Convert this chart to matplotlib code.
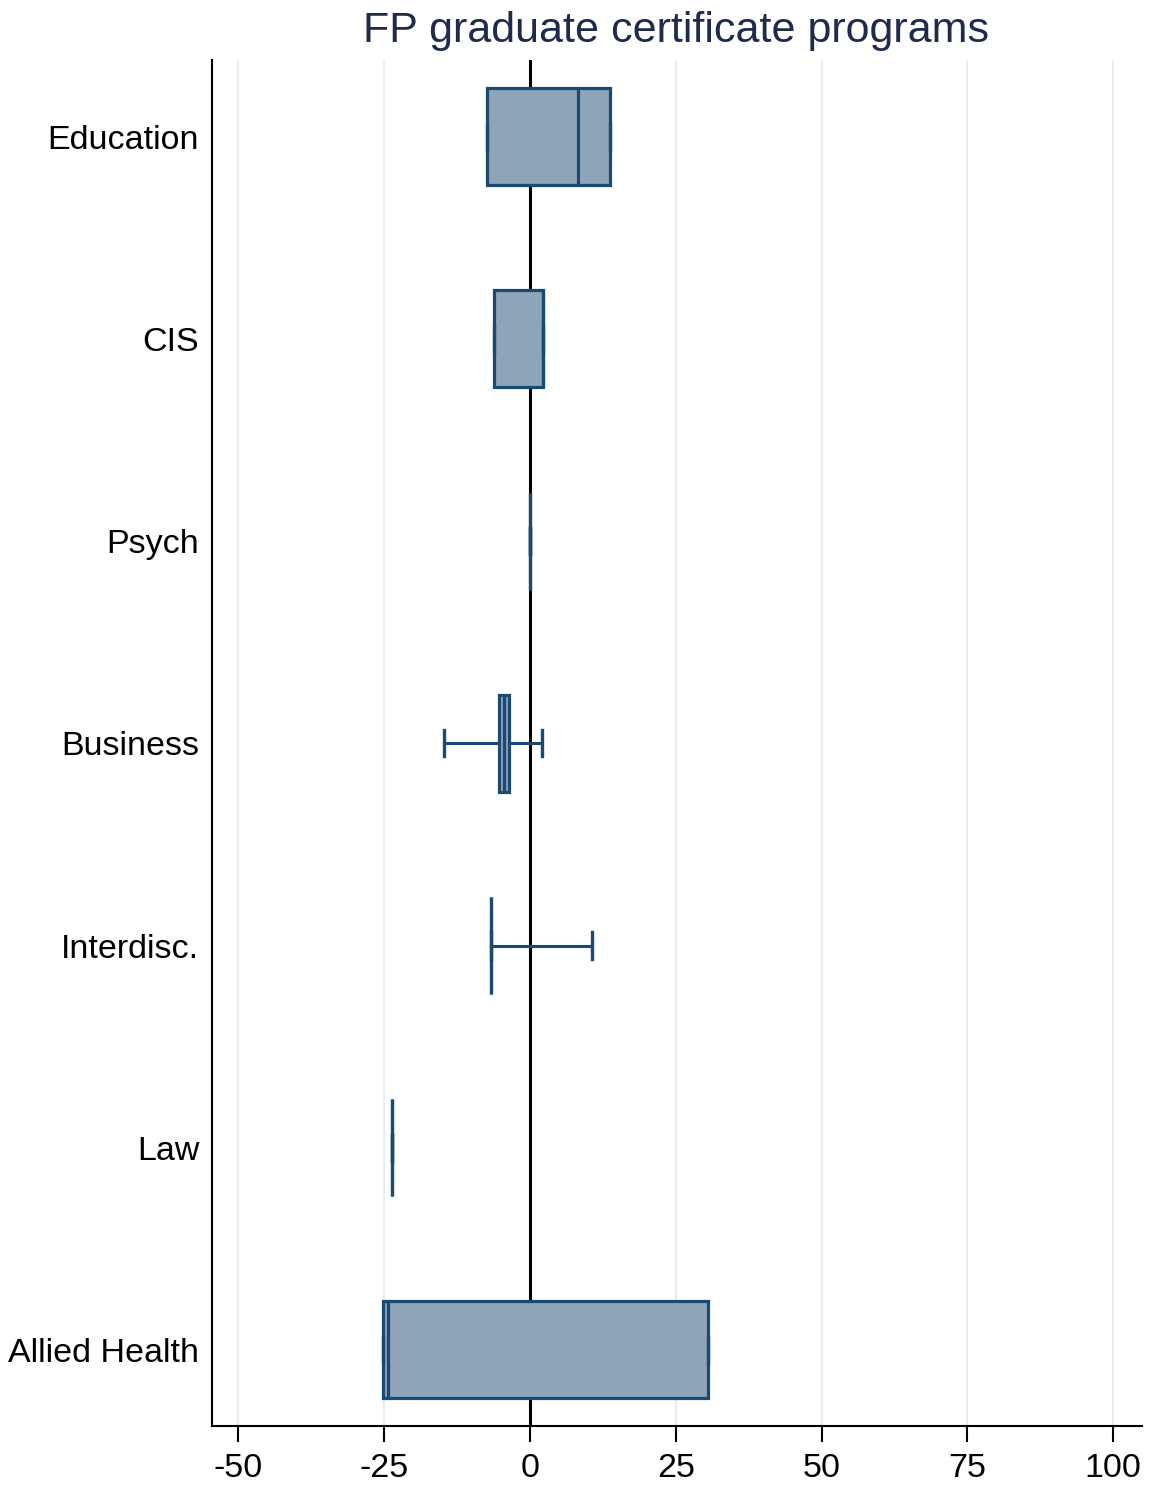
import matplotlib
import matplotlib.pyplot as plt

matplotlib.use("Agg")

plt.rcParams["font.family"] = ["Liberation Sans", "DejaVu Sans"]

# program areas and their box summary (percent change)
programs = ["Education", "CIS", "Psych", "Business", "Interdisc.", "Law", "Allied Health"]
whisker_low = [-7.3, -6.2, 0.0, -14.7, -6.7, -23.6, -25.3]
q1 = [-7.3, -6.2, 0.0, -5.4, -6.7, -23.6, -25.3]
median = [8.3, 2.3, 0.0, -4.5, -6.7, -23.6, -24.4]
q3 = [13.7, 2.3, 0.0, -3.6, -6.7, -23.6, 30.5]
whisker_high = [13.7, 2.3, 0.0, 2.1, 10.6, -23.6, 30.5]

x_ticks = [-50, -25, 0, 25, 50, 75, 100]

navy = "#1a4a72"
fill = "#8ea4b9"

stats = []
for i, name in enumerate(programs):
    stats.append({
        "label": name,
        "whislo": whisker_low[i],
        "q1": q1[i],
        "med": median[i],
        "q3": q3[i],
        "whishi": whisker_high[i],
        "fliers": [],
    })

fig = plt.figure(figsize=(11.51, 14.91), dpi=100)
ax = fig.add_axes([0.1839, 0.0438, 0.992 - 0.1839, 0.9598 - 0.0438])

positions = list(range(1, len(programs) + 1))

for t in x_ticks:
    ax.axvline(t, color="#e6eef2", linewidth=1.6, zorder=0)
ax.axvline(0, color="black", linewidth=2.2, zorder=1)

ax.bxp(
    stats,
    positions=positions,
    orientation="horizontal",
    widths=0.48,
    capwidths=0.13,
    patch_artist=True,
    showfliers=False,
    boxprops=dict(facecolor=fill, edgecolor=navy, linewidth=2.3),
    medianprops=dict(color=navy, linewidth=2.3),
    whiskerprops=dict(color=navy, linewidth=2.2),
    capprops=dict(color=navy, linewidth=2.4),
    zorder=3,
)

ax.set_xlim(-54.6, 104.9)
ax.set_ylim(7.375, 0.62)
ax.set_xticks(x_ticks)
ax.set_xticklabels([str(t) for t in x_ticks])
ax.set_yticks(positions)
ax.set_yticklabels(programs)

ax.tick_params(axis="x", length=11.5, width=1.5, pad=8, labelsize=24.5, colors="black")
ax.tick_params(axis="y", length=0, pad=9, labelsize=24.5, colors="black")

for side in ["top", "right"]:
    ax.spines[side].set_visible(False)
for side in ["left", "bottom"]:
    ax.spines[side].set_linewidth(1.5)
    ax.spines[side].set_color("black")

fig.text(0.587, 0.979, "FP graduate certificate programs", ha="center", va="center",
         fontsize=31, color="#1e2b4a")

fig.savefig("out.png", dpi=100, facecolor="white")
plt.close(fig)
